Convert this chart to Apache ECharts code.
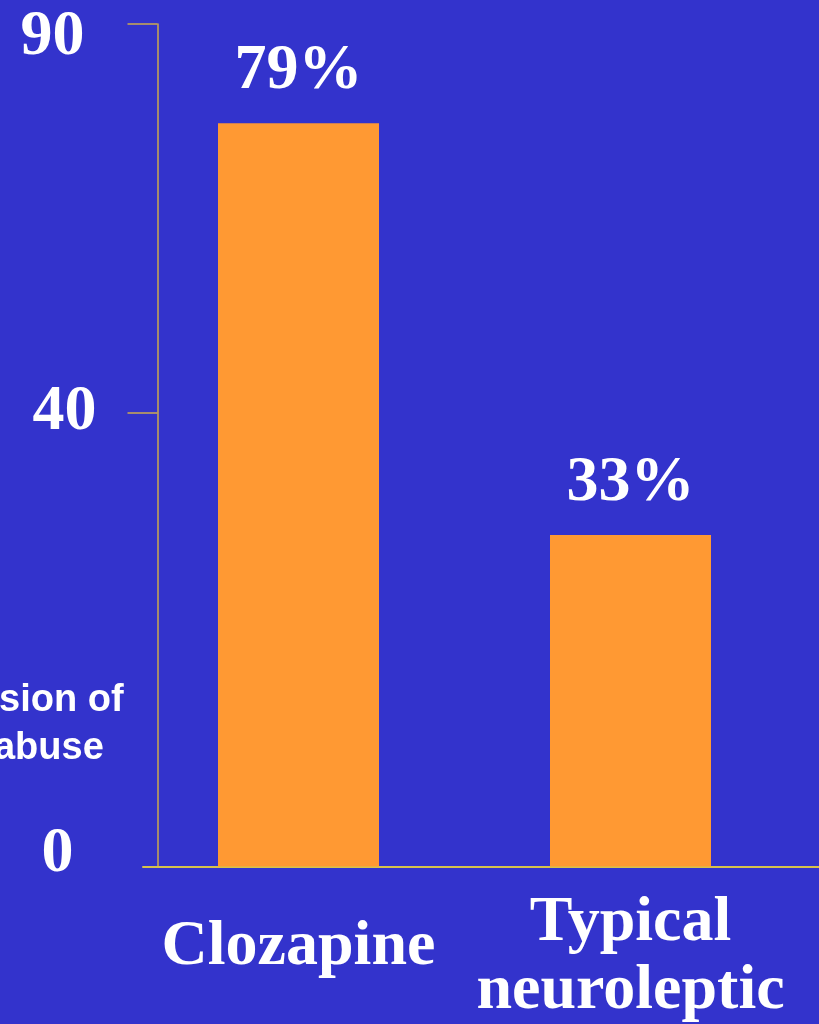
<!DOCTYPE html>
<html>
<head>
<meta charset="utf-8">
<script src="https://cdn.jsdelivr.net/npm/echarts@6/dist/echarts.min.js"></script>
<style>
html,body{margin:0;padding:0;background:#3333CC;}
#chart{width:819px;height:1024px;}
</style>
</head>
<body>
<div id="chart"></div>
<script>
const categories = ['Clozapine', 'Typical\nneuroleptic'];
const values = [79.4, 35.4];
const valueLabels = ['79%', '33%'];
const tickValues = [0, 48.5, 90];
const tickLabels = ['0', '40', '90'];
const axisNameLines = ['Remission of', 'drug abuse'];

const chart = echarts.init(document.getElementById('chart'));
const serif = '"Liberation Serif", "Times New Roman", serif';
const sans = '"Liberation Sans", Arial, sans-serif';
const tickStyle = { color: '#FFFFFF', fontFamily: serif, fontWeight: 'bold', fontSize: 64 };
chart.setOption({
  backgroundColor: '#3333CC',
  animation: false,
  grid: [
    { left: 132.5, right: 22.5, top: 24, bottom: 157.5, outerBoundsMode: 'none', containLabel: false },
    { left: 143, right: 0, top: 24, bottom: 157.5, outerBoundsMode: 'none', containLabel: false }
  ],
  graphic: [{
    type: 'text', left: -115, top: 682, silent: true,
    style: {
      text: '{a|' + axisNameLines[0] + '}\n{b|' + axisNameLines[1] + '}',
      align: 'center',
      rich: {
        a: { fill: '#FFFFFF', fontFamily: sans, fontWeight: 'bold', fontSize: 38, lineHeight: 48 },
        b: { fill: '#FFFFFF', fontFamily: sans, fontWeight: 'bold', fontSize: 38, lineHeight: 48, padding: [0, 0, 0, 14] }
      }
    }
  }],
  xAxis: [
    {
      type: 'category', gridIndex: 0, data: categories,
      axisLine: { show: false }, axisTick: { show: false },
      axisLabel: {
        formatter: function (v) {
          return v.indexOf('\n') < 0 ? '{s|' + v + '}' : v;
        },
        color: '#FFFFFF', fontFamily: serif, fontWeight: 'bold', fontSize: 64, lineHeight: 68,
        rich: {
          s: { color: '#FFFFFF', fontFamily: serif, fontWeight: 'bold', fontSize: 64, lineHeight: 68, padding: [48, 0, 0, 0] }
        },
        margin: 23, verticalAlign: 'top', interval: 0
      }
    },
    {
      type: 'value', gridIndex: 1, min: 0, max: 1,
      axisLine: { show: true, lineStyle: { color: '#D6C24C', width: 2 } },
      axisTick: { show: false }, axisLabel: { show: false }, splitLine: { show: false }
    }
  ],
  yAxis: [
    {
      type: 'value', gridIndex: 0, min: 0, max: 90, offset: -25,
      axisLine: { show: true, lineStyle: { color: '#CDAA4F', width: 1.5 } },
      axisTick: { show: true, inside: false, length: 30,
        customValues: tickValues.filter(function (v) { return v > 0; }),
        lineStyle: { color: '#CDAA4F', width: 1.5 } },
      axisLabel: {
        customValues: tickValues,
        formatter: function (v) {
          const i = tickValues.indexOf(v);
          return i >= 0 ? '{t' + i + '|' + tickLabels[i] + '}' : '';
        },
        rich: {
          t0: Object.assign({}, tickStyle, { padding: [0, 0, 24, 0] }),
          t1: Object.assign({}, tickStyle, { padding: [0, 0, 0, 14] }),
          t2: Object.assign({}, tickStyle, { padding: [26, 10, 0, 0] })
        },
        margin: 100, align: 'center'
      },
      splitLine: { show: false }
    },
    {
      type: 'value', gridIndex: 1, show: false, min: 0, max: 1
    }
  ],
  series: [{
    type: 'bar', xAxisIndex: 0, yAxisIndex: 0,
    data: values, barWidth: 161,
    itemStyle: { color: '#FF9933' },
    label: {
      show: true, position: 'top', distance: 20,
      formatter: function (p) { return valueLabels[p.dataIndex]; },
      color: '#FFFFFF', fontFamily: serif, fontWeight: 'bold', fontSize: 64
    }
  }]
});
</script>
</body>
</html>
